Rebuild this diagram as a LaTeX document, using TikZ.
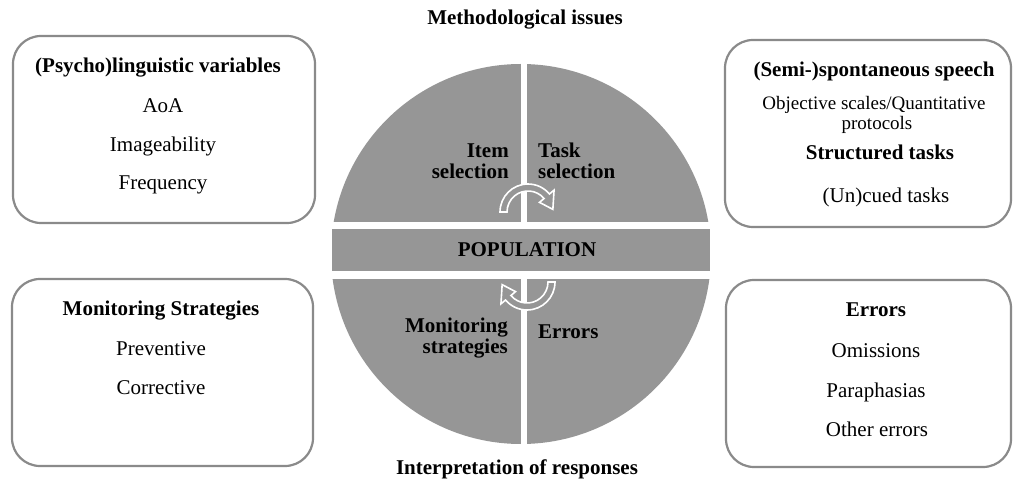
\documentclass[tikz,border=0pt]{standalone}
\usepackage{fontspec}
\setmainfont{Liberation Serif}
\usetikzlibrary{calc}
\definecolor{piegrey}{RGB}{150,150,150}
\definecolor{framegrey}{RGB}{138,138,138}
\begin{document}
\begin{tikzpicture}[x=1pt,y=1pt,
  every node/.style={inner sep=0pt, font=\fontsize{21}{22}\selectfont},
  bold/.style={font=\fontsize{21}{22}\selectfont\bfseries},
  small/.style={font=\fontsize{19}{20}\selectfont},
  txt/.style={anchor=base},
  panel/.style={draw=framegrey, line width=2.2pt, rounded corners=28pt, fill=white},
  cyclearrow/.style={fill=piegrey, draw=white, line width=1.6pt, line join=miter}]
\useasboundingbox (0,0) rectangle (1014,485);

% ---- central disc: four quadrants around the population bar ----
\fill[piegrey] (521,231) circle[radius=190];
\fill[white] (300,206) rectangle (740,263);
\fill[white] (521,0) rectangle (527,485);
\fill[piegrey] (332,214) rectangle (710,256);

% ---- cycle arrows ----
\coordinate (ct) at (528,273);
\coordinate (cb) at (527,203);
\draw[cyclearrow] ($(ct)+(180:28)$) arc[start angle=180, end angle=40, radius=28]
  -- ($(ct)+(40:34)$) -- ($(ct)+(6:25)$) -- ($(ct)+(40:15)$) -- ($(ct)+(40:21)$)
  arc[start angle=40, end angle=180, radius=21] -- cycle;
\draw[cyclearrow] ($(cb)+(0:28)$) arc[start angle=0, end angle=-140, radius=28]
  -- ($(cb)+(-140:34)$) -- ($(cb)+(-174:25)$) -- ($(cb)+(-140:15)$) -- ($(cb)+(-140:21)$)
  arc[start angle=-140, end angle=0, radius=21] -- cycle;

% ---- labels inside the disc ----
\node[bold, anchor=base east] (item1) at (509,327) {Item};
\node[bold, anchor=base east] (item2) at (509,306) {selection};
\node[bold, anchor=base west] (task1) at (538,327) {Task};
\node[bold, anchor=base west] (task2) at (538,306) {selection};
\node[bold, anchor=base] (pop) at (527,228) {POPULATION};
\node[bold, anchor=base east] (mon1) at (508,153) {Monitoring};
\node[bold, anchor=base east] (mon2) at (508,132) {strategies};
\node[bold, anchor=base west] (err) at (538,147) {Errors};

% ---- headings above and below ----
\node[bold, anchor=base] (meth) at (525,460) {Methodological issues};
\node[bold, anchor=base] (interp) at (517,11) {Interpretation of responses};

% ---- side panels ----
\node[panel, minimum width=302pt, minimum height=187pt] (ptl) at (164,355.5) {};
\node[panel, minimum width=286pt, minimum height=187pt] (ptr) at (868,351.5) {};
\node[panel, minimum width=301pt, minimum height=187pt] (pbl) at (162.5,112.5) {};
\node[panel, minimum width=285pt, minimum height=187pt] (pbr) at (868.5,111.5) {};

% top left
\node[bold, txt] (ling) at (158,412) {(Psycho)linguistic variables};
\node[txt] (aoa) at (163,372) {AoA};
\node[txt] (imag) at (163,333) {Imageability};
\node[txt] (freq) at (163,295) {Frequency};

% top right
\node[bold, txt] (spont) at (874,408) {(Semi-)spontaneous speech};
\node[small, txt] (obj) at (874,375) {Objective scales/Quantitative};
\node[small, txt] (prot) at (877,355) {protocols};
\node[bold, txt] (struct) at (880,325) {Structured tasks};
\node[txt] (cued) at (886,282) {(Un)cued tasks};

% bottom left
\node[bold, txt] (monst) at (161,170) {Monitoring Strategies};
\node[txt] (prev) at (161,130) {Preventive};
\node[txt] (corr) at (161,91) {Corrective};

% bottom right
\node[bold, txt] (errh) at (876,168) {Errors};
\node[txt] (omis) at (876,128) {Omissions};
\node[txt] (para) at (876,88) {Paraphasias};
\node[txt] (oth) at (877,49) {Other errors};
\end{tikzpicture}
\end{document}
